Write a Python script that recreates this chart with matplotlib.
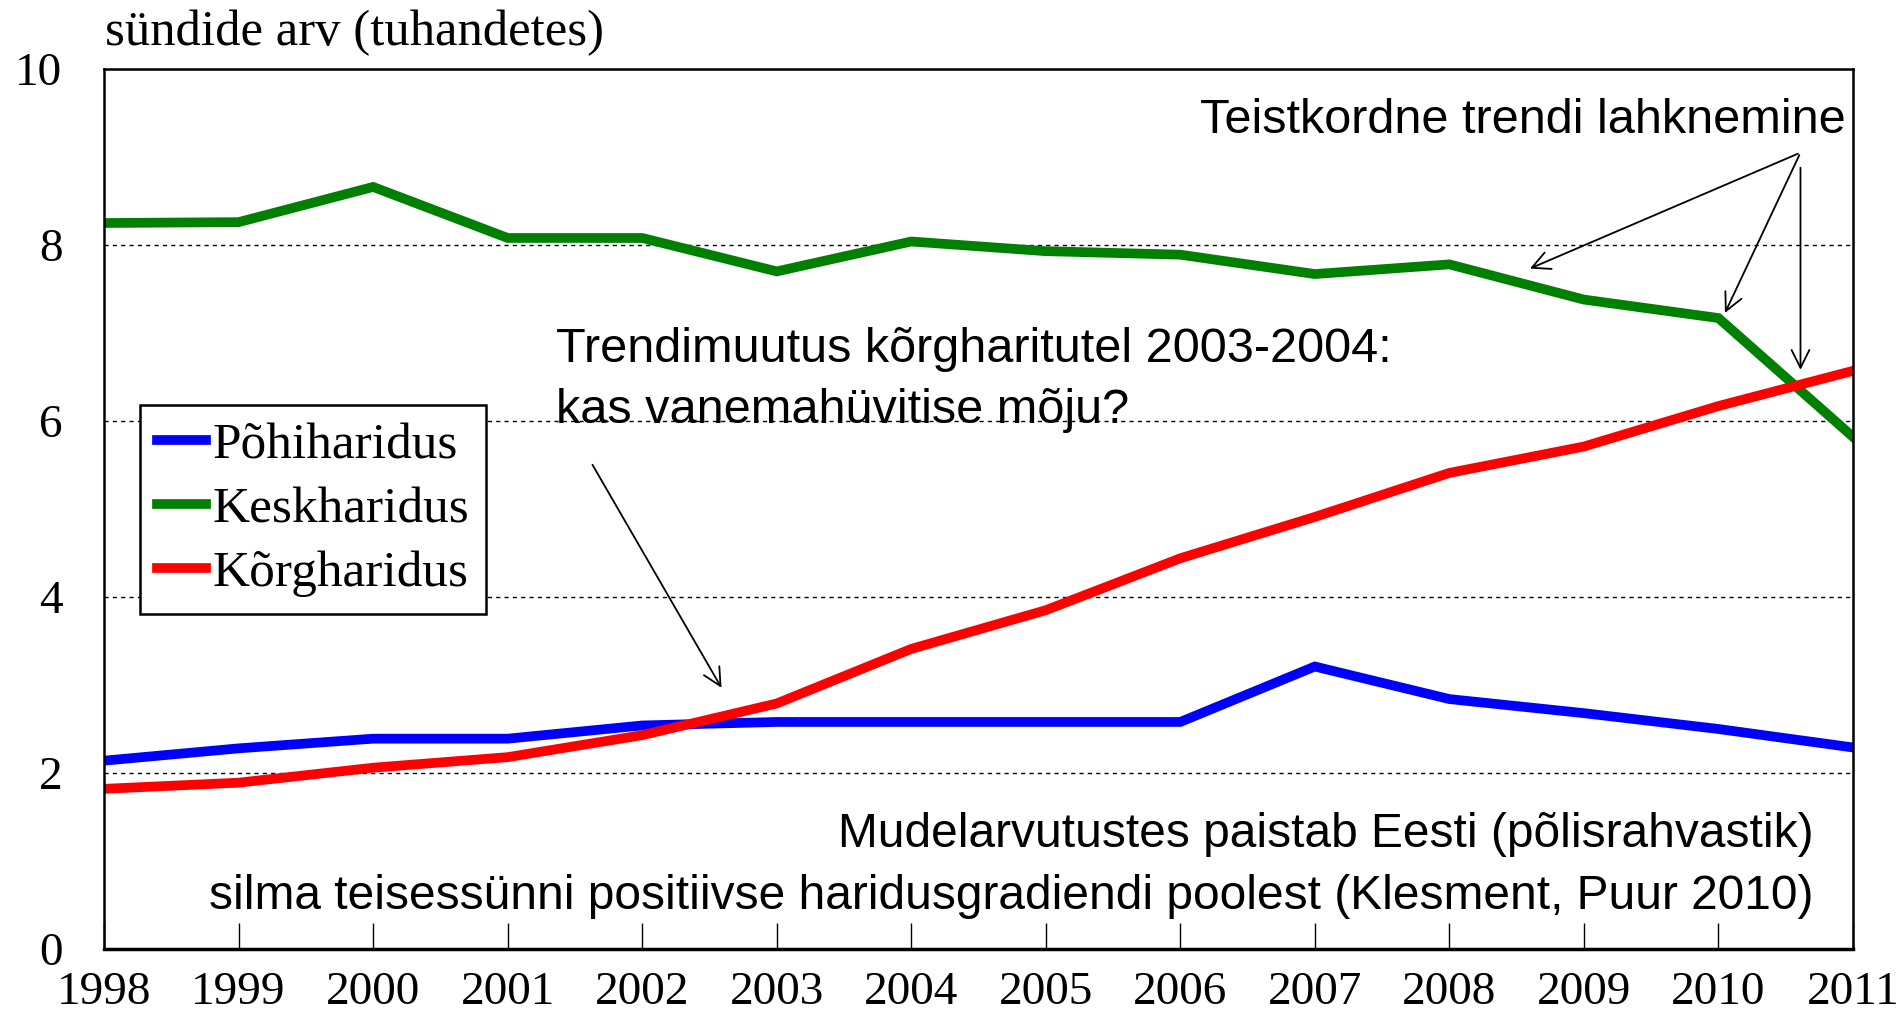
import matplotlib
matplotlib.use('Agg')

import matplotlib.pyplot as plt

# data (thousands of births)
years = [1998, 1999, 2000, 2001, 2002, 2003, 2004, 2005, 2006, 2007, 2008, 2009, 2010, 2011]
pohiharidus = [2.14, 2.28, 2.39, 2.39, 2.54, 2.58, 2.58, 2.58, 2.58, 3.21, 2.84, 2.68, 2.50, 2.29]
keskharidus = [8.25, 8.26, 8.66, 8.08, 8.08, 7.70, 8.04, 7.93, 7.89, 7.67, 7.78, 7.38, 7.17, 5.82]
korgharidus = [1.82, 1.89, 2.06, 2.18, 2.43, 2.79, 3.41, 3.85, 4.44, 4.91, 5.41, 5.71, 6.17, 6.57]
series_names = ['Põhiharidus', 'Keskharidus', 'Kõrgharidus']
series_colors = ['#0000ff', '#008000', '#ff0000']
y_ticks = [0, 2, 4, 6, 8, 10]

serif = 'Liberation Serif'
sans = 'Liberation Sans'

fig = plt.figure(figsize=(19.03, 10.18), dpi=100)
ax = fig.add_axes([0.0547, 0.0678, 0.9190, 0.8644])

for vals, name, col in zip([pohiharidus, keskharidus, korgharidus], series_names, series_colors):
    ax.plot(years, vals, color=col, lw=7, label=name, solid_joinstyle='miter')

ax.set_xlim(1998, 2011)
ax.set_ylim(0, 10)
ax.set_xticks(years)
ax.set_xticklabels([str(y) for y in years], fontfamily=serif, fontsize=34)
ax.set_yticks(y_ticks)
ax.set_yticklabels([str(v) for v in y_ticks], fontfamily=serif, fontsize=34)
ax.tick_params(axis='x', direction='in', length=19, width=1, pad=16)
ax.tick_params(axis='y', length=0, pad=30)
for y in [2, 4, 6, 8]:
    ax.axhline(y, color='black', lw=1, ls=(0, (3, 3)), zorder=0.5)
for s in ax.spines.values():
    s.set_linewidth(1.8)
ax.spines['bottom'].set_linewidth(2.5)

fig.text(0.055, 0.956, 'sündide arv (tuhandetes)', fontfamily=serif, fontsize=36.5,
         va='baseline', ha='left')

leg = ax.legend(loc='upper left', bbox_to_anchor=(0.0206, 0.618), prop={'family': serif, 'size': 37},
                handlelength=0.95, handletextpad=0.12, labelspacing=0.33, borderpad=0.33,
                fancybox=False, framealpha=1, edgecolor='black', borderaxespad=0)
leg.get_frame().set_linewidth(1.8)

# annotations
arrow = dict(arrowstyle='->', color='black', lw=1.3, mutation_scale=32)
ax.text(2001.36, 6.47, 'Trendimuutus kõrgharitutel 2003-2004:\nkas vanemahüvitise mõju?',
        fontfamily=sans, fontsize=35, ha='left', va='center', linespacing=1.45)
ax.annotate('', xy=(2002.60, 2.94), xytext=(2001.62, 5.53), arrowprops=arrow)

ax.text(2010.95, 9.42, 'Teistkordne trendi lahknemine', fontfamily=sans, fontsize=35,
        ha='right', va='center')
ax.annotate('', xy=(2008.58, 7.72), xytext=(2010.61, 9.05), arrowprops=arrow)
ax.annotate('', xy=(2010.04, 7.20), xytext=(2010.61, 9.05), arrowprops=arrow)
ax.annotate('', xy=(2010.61, 6.55), xytext=(2010.61, 8.91), arrowprops=arrow)

ax.text(2010.71, 0.95, 'Mudelarvutustes paistab Eesti (põlisrahvastik)\n'
        'silma teisessünni positiivse haridusgradiendi poolest (Klesment, Puur 2010)',
        fontfamily=sans, fontsize=34.5, ha='right', va='center', multialignment='right',
        linespacing=1.5)

fig.savefig('out.png', dpi=100)
